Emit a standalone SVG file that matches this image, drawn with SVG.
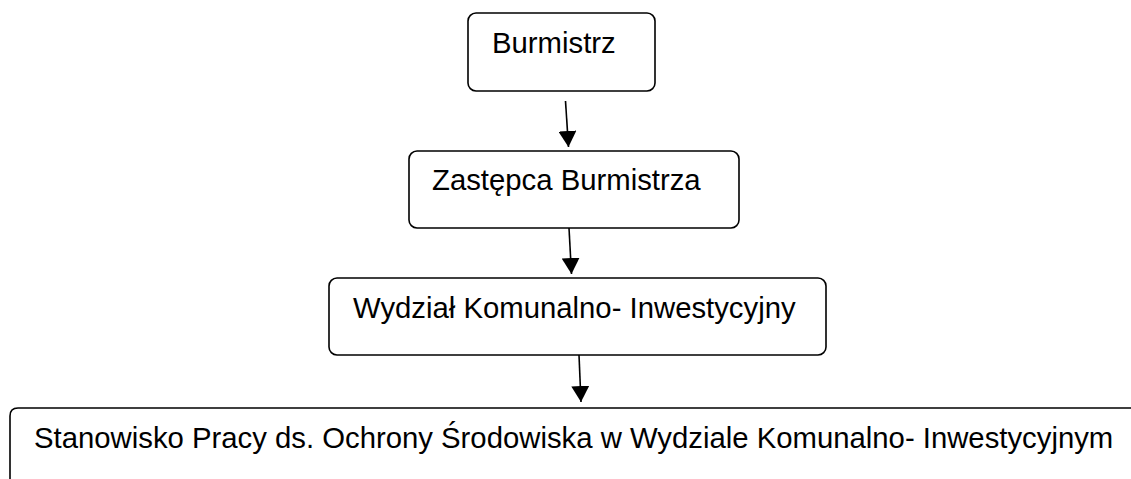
<svg xmlns="http://www.w3.org/2000/svg" width="1131" height="479" viewBox="0 0 1131 479">
<style>
.box{fill:#fff;stroke:#000;stroke-width:1.6}
.lbl{font-family:"Liberation Sans",Arial,sans-serif;font-size:29.3px;fill:#000}
.con{stroke:#000;stroke-width:1.6;fill:none}
</style>
<defs>
<marker id="ah" markerWidth="17" markerHeight="18" refX="16" refY="9" orient="auto" markerUnits="userSpaceOnUse">
<path d="M0,0 L16,9 L0,18 Z" fill="#000"/>
</marker>
</defs>
<rect width="1131" height="479" fill="#fff"/>
<g id="n1">
<rect class="box" x="468" y="13" width="187" height="78" rx="8"/>
<text class="lbl" x="492" y="53">Burmistrz</text>
</g>
<g id="n2">
<rect class="box" x="409" y="151" width="330" height="77" rx="8"/>
<text class="lbl" x="432" y="190">Zastępca Burmistrza</text>
</g>
<g id="n3">
<rect class="box" x="329" y="278" width="497" height="77" rx="8"/>
<text class="lbl" x="353" y="318">Wydział Komunalno- Inwestycyjny</text>
</g>
<g id="n4">
<path class="box" d="M10,490 L10,416 Q10,408 18,408 L1140,408"/>
<text class="lbl" x="34" y="448">Stanowisko Pracy ds. Ochrony Środowiska w Wydziale Komunalno- Inwestycyjnym</text>
</g>
<g id="connectors">
<line class="con" x1="565.5" y1="101" x2="568.5" y2="147" marker-end="url(#ah)"/>
<line class="con" x1="569" y1="228" x2="571.5" y2="274" marker-end="url(#ah)"/>
<line class="con" x1="579" y1="355" x2="581" y2="402" marker-end="url(#ah)"/>
</g>
</svg>
